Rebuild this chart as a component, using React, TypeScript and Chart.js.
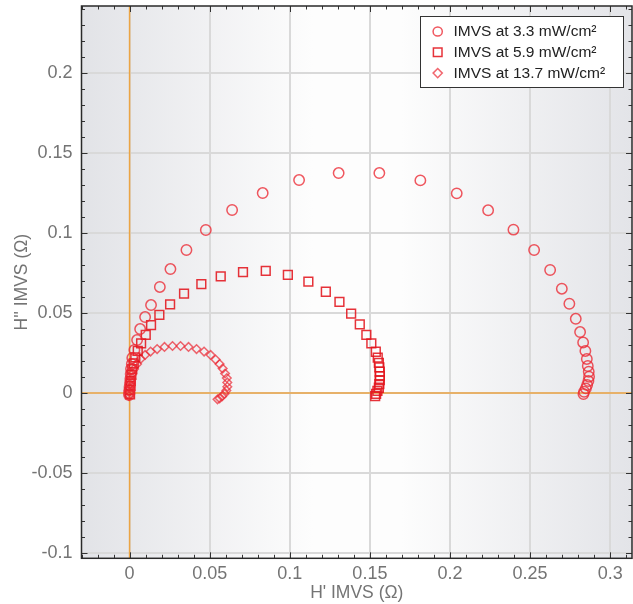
import React, { useEffect, useRef } from "react";
import { Chart, registerables } from "chart.js";

Chart.register(...registerables);

// IMVS at 3.3 mW/cm² (circles)
const circX = [-0.0003, -0.0003, -0.0001, 0.0, 0.0003, 0.0005, 0.0007, 0.0009, 0.0014, 0.0017, 0.003, 0.0047, 0.0066, 0.0097, 0.0134, 0.0189, 0.0255, 0.0355, 0.0476, 0.064, 0.0831, 0.1058, 0.1305, 0.1559, 0.1815, 0.2042, 0.2238, 0.2396, 0.2525, 0.2625, 0.2698, 0.2745, 0.2785, 0.2812, 0.2831, 0.2845, 0.2854, 0.286, 0.2866, 0.2868, 0.2864, 0.2856, 0.2848, 0.2837, 0.2833];
const circY = [-0.0013, 0.0003, 0.0019, 0.0038, 0.0063, 0.0088, 0.0119, 0.015, 0.0181, 0.0219, 0.0269, 0.0331, 0.04, 0.0475, 0.055, 0.0663, 0.0775, 0.0894, 0.1019, 0.1144, 0.125, 0.1331, 0.1375, 0.1375, 0.1329, 0.1248, 0.1142, 0.1021, 0.0894, 0.0769, 0.0652, 0.0558, 0.0464, 0.0381, 0.0316, 0.0263, 0.0213, 0.0169, 0.0133, 0.0102, 0.0075, 0.005, 0.0029, 0.0008, -0.0006];

// IMVS at 5.9 mW/cm² (squares)
const sqX = [0.0003, 0.0003, 0.0005, 0.0007, 0.0011, 0.0017, 0.0026, 0.0036, 0.0051, 0.0072, 0.0101, 0.0134, 0.0186, 0.0253, 0.034, 0.0448, 0.0569, 0.0708, 0.085, 0.0988, 0.1116, 0.1225, 0.131, 0.1383, 0.1437, 0.1478, 0.1509, 0.1537, 0.1549, 0.1556, 0.1559, 0.1562, 0.1562, 0.1562, 0.1559, 0.1556, 0.1547, 0.1539, 0.1533];
const sqY = [-0.0008, 0.0019, 0.0044, 0.0075, 0.0113, 0.015, 0.0186, 0.0223, 0.0263, 0.0311, 0.0363, 0.0425, 0.0488, 0.0554, 0.0621, 0.0681, 0.0729, 0.0756, 0.0763, 0.0738, 0.0696, 0.0633, 0.0569, 0.0496, 0.0429, 0.0363, 0.0311, 0.0258, 0.0221, 0.0189, 0.0161, 0.0133, 0.0106, 0.0081, 0.0056, 0.0033, 0.0013, -0.0006, -0.0019];

// IMVS at 13.7 mW/cm² (diamonds)
const diaX = [-0.0003, -0.0002, 0.0, 0.0003, 0.0008, 0.0016, 0.0028, 0.0047, 0.0069, 0.0097, 0.0131, 0.0172, 0.0218, 0.0268, 0.0318, 0.0368, 0.0418, 0.0465, 0.0506, 0.0537, 0.0562, 0.0581, 0.0596, 0.0607, 0.061, 0.061, 0.0604, 0.0593, 0.0577, 0.0562, 0.0549];
const diaY = [-0.0019, 0.0006, 0.0031, 0.0056, 0.0088, 0.0119, 0.015, 0.0181, 0.0213, 0.0238, 0.0259, 0.0275, 0.0288, 0.0294, 0.0294, 0.0288, 0.0275, 0.0259, 0.0238, 0.0209, 0.0181, 0.0153, 0.0122, 0.0094, 0.0066, 0.0039, 0.0016, -0.0004, -0.0021, -0.0033, -0.0039];

const seriesLabels = ["IMVS at 3.3 mW/cm²", "IMVS at 5.9 mW/cm²", "IMVS at 13.7 mW/cm²"];
const xTitle = "H' IMVS (Ω)";
const yTitle = "H'' IMVS (Ω)";
const xMin = -0.03;
const xMax = 0.3136;
const yMin = -0.1033;
const yMax = 0.2419;
const majorStep = 0.05;
const minorStep = 0.01;

const FONT = "'Liberation Sans', Arial, sans-serif";
const circColor = "rgba(236,40,50,0.78)";
const sqColor = "rgba(226,22,30,0.88)";
const diaColor = "rgba(236,45,55,0.72)";
const textColor = "#747474";

const pts = (xs: number[], ys: number[]) => xs.map((x, i) => ({ x, y: ys[i] }));
const fmt = (v: any) => {
  const r = Math.round(Number(v) * 1000) / 1000;
  return String(r);
};
const noPad = (s: any) => {
  s.paddingTop = 0;
  s.paddingBottom = 0;
  s.paddingLeft = 0;
  s.paddingRight = 0;
};

const framePlugin = {
  id: "frame",
  beforeDraw(chart: any) {
    const { ctx, chartArea: a } = chart;
    ctx.save();
    const g = ctx.createLinearGradient(a.left, 0, a.right, 0);
    g.addColorStop(0, "#e2e3e7");
    g.addColorStop(0.42, "#fdfdfd");
    g.addColorStop(0.58, "#fdfdfd");
    g.addColorStop(1, "#e3e4e8");
    ctx.fillStyle = g;
    ctx.fillRect(a.left, a.top, a.right - a.left, a.bottom - a.top);
    ctx.restore();
  },
  beforeDatasetsDraw(chart: any) {
    const { ctx, chartArea: a, scales } = chart;
    ctx.save();
    ctx.strokeStyle = "#eba444";
    ctx.lineWidth = 1.5;
    const x0 = scales.x.getPixelForValue(0);
    const y0 = scales.y.getPixelForValue(0);
    ctx.beginPath();
    ctx.moveTo(x0, a.top);
    ctx.lineTo(x0, a.bottom);
    ctx.moveTo(a.left, y0);
    ctx.lineTo(a.right, y0);
    ctx.stroke();
    ctx.restore();
  },
  afterDraw(chart: any) {
    const { ctx, chartArea: a, scales } = chart;
    ctx.save();
    // inward ticks
    ctx.strokeStyle = "#333";
    ctx.lineWidth = 1;
    ctx.beginPath();
    const xs = scales.x;
    for (let k = Math.ceil(xs.min / minorStep - 1e-6); k * minorStep <= xs.max + 1e-9; k++) {
      const px = Math.round(xs.getPixelForValue(k * minorStep)) + 0.5;
      const len = k % 5 === 0 ? 6 : 3.5;
      ctx.moveTo(px, a.bottom);
      ctx.lineTo(px, a.bottom - len);
      ctx.moveTo(px, a.top);
      ctx.lineTo(px, a.top + len);
    }
    const ys = scales.y;
    for (let k = Math.ceil(ys.min / minorStep - 1e-6); k * minorStep <= ys.max + 1e-9; k++) {
      const py = Math.round(ys.getPixelForValue(k * minorStep)) + 0.5;
      const len = k % 5 === 0 ? 6 : 3.5;
      ctx.moveTo(a.left, py);
      ctx.lineTo(a.left + len, py);
      ctx.moveTo(a.right, py);
      ctx.lineTo(a.right - len, py);
    }
    ctx.stroke();
    // frame
    ctx.lineWidth = 1.5;
    ctx.strokeStyle = "#2a2a2a";
    ctx.strokeRect(a.left, a.top, a.right - a.left, a.bottom - a.top);

    // legend
    const bx = 420.5, by = 16.5, bw = 203, bh = 71;
    ctx.fillStyle = "#ffffff";
    ctx.fillRect(bx, by, bw, bh);
    ctx.lineWidth = 1;
    ctx.strokeStyle = "#333";
    ctx.strokeRect(bx, by, bw, bh);
    ctx.font = `15.5px ${FONT}`;
    ctx.textBaseline = "middle";
    ctx.textAlign = "left";
    chart.data.datasets.forEach((ds: any, i: number) => {
      const cy = 31.5 + i * 20.8;
      const cx = 437.7;
      ctx.strokeStyle = ds.pointBorderColor;
      ctx.lineWidth = 1.5;
      ctx.beginPath();
      if (ds.pointStyle === "circle") {
        ctx.arc(cx, cy, 4.6, 0, Math.PI * 2);
      } else if (ds.pointStyle === "rect") {
        ctx.rect(cx - 4.3, cy - 4.3, 8.6, 8.6);
      } else {
        ctx.moveTo(cx, cy - 4.6);
        ctx.lineTo(cx + 4.6, cy);
        ctx.lineTo(cx, cy + 4.6);
        ctx.lineTo(cx - 4.6, cy);
        ctx.closePath();
      }
      ctx.stroke();
      ctx.fillStyle = "#222";
      ctx.fillText(ds.label, 453.5, cy + 0.5);
    });
    ctx.restore();
  },
};

export default function App() {
  const ref = useRef<HTMLCanvasElement>(null);
  useEffect(() => {
    document.body.style.margin = "0";
    const canvas = ref.current;
    if (!canvas) return;
    const tickFont = { family: FONT, size: 18 };
    const titleFont = { family: FONT, size: 17.5 };
    const gridCfg = { drawTicks: false, color: "#d9d9d9", lineWidth: 2 };
    const chart = new Chart(canvas, {
      type: "scatter",
      data: {
        datasets: [
          {
            label: seriesLabels[0],
            data: pts(circX, circY),
            pointStyle: "circle",
            pointRadius: 5.2,
            pointBorderWidth: 1.5,
            pointBorderColor: circColor,
            pointBackgroundColor: "rgba(0,0,0,0)",
            showLine: false,
          },
          {
            label: seriesLabels[1],
            data: pts(sqX, sqY),
            pointStyle: "rect",
            pointRadius: 6.2,
            pointBorderWidth: 1.5,
            pointBorderColor: sqColor,
            pointBackgroundColor: "rgba(0,0,0,0)",
            showLine: false,
          },
          {
            label: seriesLabels[2],
            data: pts(diaX, diaY),
            pointStyle: "rectRot",
            pointRadius: 4.3,
            pointBorderWidth: 1.5,
            pointBorderColor: diaColor,
            pointBackgroundColor: "rgba(0,0,0,0)",
            showLine: false,
          },
        ],
      } as any,
      options: {
        animation: false,
        responsive: false,
        layout: { autoPadding: false, padding: { top: 6, right: 1, left: 0, bottom: 0 } },
        plugins: { legend: { display: false }, tooltip: { enabled: false } },
        scales: {
          x: {
            type: "linear",
            min: xMin,
            max: xMax,
            afterFit: (s: any) => {
              s.height = 45.7;
              noPad(s);
            },
            ticks: {
              stepSize: majorStep,
              includeBounds: false,
              callback: fmt,
              font: tickFont,
              color: textColor,
              padding: 5,
              maxRotation: 0,
              autoSkip: false,
            },
            grid: gridCfg,
            border: { display: false },
            title: { display: true, text: xTitle, font: titleFont, color: textColor, padding: { top: 0, bottom: 0 } },
          },
          y: {
            type: "linear",
            min: yMin,
            max: yMax,
            afterFit: (s: any) => {
              s.width = 81.5;
              noPad(s);
            },
            ticks: {
              stepSize: majorStep,
              includeBounds: false,
              callback: fmt,
              font: tickFont,
              color: textColor,
              padding: 9,
              autoSkip: false,
            },
            grid: gridCfg,
            border: { display: false },
            title: { display: true, text: yTitle, font: titleFont, color: textColor, padding: { top: 12, bottom: 0 } },
          },
        },
      } as any,
      plugins: [framePlugin],
    });
    return () => chart.destroy();
  }, []);
  return (
    <div style={{ position: "absolute", left: 0, top: 0, width: 633, height: 604, background: "#fff" }}>
      <canvas ref={ref} width={633} height={604} style={{ width: 633, height: 604, display: "block" }} />
    </div>
  );
}
